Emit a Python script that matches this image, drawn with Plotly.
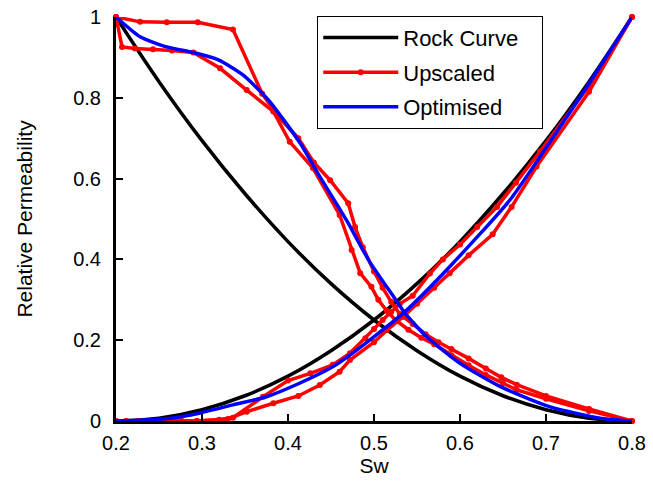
import plotly.graph_objects as go

# ---- data ----
rock_sw = [0.2, 0.25, 0.3, 0.35, 0.4, 0.45, 0.5, 0.55, 0.6, 0.65, 0.7, 0.75, 0.8]
rock_krw = [0, 0.007, 0.028, 0.0625, 0.111, 0.174, 0.25, 0.34, 0.444, 0.5625, 0.694, 0.84, 1]
rock_kro = [1, 0.84, 0.694, 0.5625, 0.444, 0.34, 0.25, 0.174, 0.111, 0.0625, 0.028, 0.007, 0]

upA_kro_sw = [0.2, 0.228, 0.259, 0.295, 0.336, 0.37, 0.39, 0.412, 0.43, 0.449, 0.47, 0.478, 0.487,
              0.5, 0.51, 0.52, 0.53, 0.545, 0.56, 0.575, 0.59, 0.61, 0.63, 0.648, 0.666, 0.7, 0.75, 0.8]
upA_kro = [1, 0.988, 0.987, 0.987, 0.969, 0.81, 0.75, 0.7, 0.64, 0.596, 0.539, 0.48, 0.43,
           0.37, 0.33, 0.295, 0.265, 0.24, 0.215, 0.195, 0.178, 0.155, 0.13, 0.108, 0.09, 0.062, 0.03, 0]

upB_kro_sw = [0.2, 0.207, 0.222, 0.243, 0.265, 0.29, 0.321, 0.352, 0.383, 0.402, 0.429, 0.46, 0.474,
              0.484, 0.497, 0.505, 0.515, 0.525, 0.54, 0.555, 0.57, 0.59, 0.61, 0.63, 0.65, 0.666, 0.7, 0.75, 0.8]
upB_kro = [1, 0.926, 0.922, 0.92, 0.917, 0.912, 0.873, 0.819, 0.766, 0.691, 0.626, 0.51, 0.423,
           0.366, 0.332, 0.3, 0.272, 0.25, 0.226, 0.206, 0.19, 0.163, 0.138, 0.114, 0.094, 0.077, 0.055, 0.025, 0]

upA_krw_sw = [0.2, 0.212, 0.226, 0.243, 0.259, 0.276, 0.294, 0.32, 0.336, 0.371, 0.4, 0.426, 0.452, 0.472,
              0.49, 0.5, 0.51, 0.52, 0.53, 0.545, 0.565, 0.58, 0.6, 0.62, 0.643, 0.665, 0.693, 0.75, 0.8]
upA_krw = [0, 0, 0, 0, 0, 0, 0, 0.003, 0.008, 0.06, 0.1, 0.118, 0.139, 0.168,
           0.205, 0.228, 0.25, 0.27, 0.29, 0.31, 0.365, 0.4, 0.437, 0.48, 0.53, 0.59, 0.667, 0.83, 1]

upB_krw_sw = [0.2, 0.212, 0.226, 0.243, 0.259, 0.276, 0.294, 0.33, 0.352, 0.383, 0.412, 0.437, 0.46, 0.472,
              0.5, 0.515, 0.534, 0.55, 0.57, 0.588, 0.61, 0.638, 0.66, 0.689, 0.75, 0.8]
upB_krw = [0, 0, 0, 0, 0, 0, 0, 0.005, 0.023, 0.044, 0.062, 0.089, 0.122, 0.151,
           0.195, 0.225, 0.258, 0.29, 0.33, 0.366, 0.41, 0.462, 0.53, 0.63, 0.815, 1]

opt_kro_sw = [0.2, 0.228, 0.259, 0.29, 0.319, 0.348, 0.379, 0.414, 0.437, 0.468, 0.495, 0.524,
              0.536, 0.561, 0.6, 0.647, 0.705, 0.763, 0.8]
opt_kro = [1, 0.951, 0.926, 0.912, 0.894, 0.856, 0.79, 0.688, 0.605, 0.497, 0.394, 0.304,
           0.267, 0.209, 0.143, 0.085, 0.035, 0.007, 0]
opt_krw_sw = [0.2, 0.22, 0.26, 0.298, 0.336, 0.375, 0.414, 0.452, 0.472, 0.534, 0.588, 0.658, 0.693, 0.75, 0.8]
opt_krw = [0, 0.001, 0.006, 0.02, 0.04, 0.06, 0.094, 0.134, 0.163, 0.267, 0.382, 0.547, 0.654, 0.835, 1]

x_ticks = [0.2, 0.3, 0.4, 0.5, 0.6, 0.7, 0.8]
y_ticks = [0, 0.2, 0.4, 0.6, 0.8, 1]
y_tick_text = ["0", "0.2", "0.4", "0.6", "0.8", "1"]

legend_names = ["Rock Curve\u00a0\u00a0\u00a0", "Upscaled", "Optimised"]

FONT = "Liberation Sans, Arial, Helvetica, sans-serif"
LW = 3.5

fig = go.Figure()

# Rock curve (black)
fig.add_trace(go.Scatter(x=rock_sw, y=rock_krw, mode="lines", line=dict(color="black", width=LW, shape="spline"),
                         name=legend_names[0], legendgroup="rock", showlegend=True, cliponaxis=False))
fig.add_trace(go.Scatter(x=rock_sw, y=rock_kro, mode="lines", line=dict(color="black", width=LW, shape="spline"),
                         name=legend_names[0], legendgroup="rock", showlegend=False, cliponaxis=False))

# Upscaled (red with dots)
red_line = dict(color="#ff0000", width=LW)
red_marker = dict(color="#ff0000", size=6)
for i, (xs, ys) in enumerate([(upA_kro_sw, upA_kro), (upB_kro_sw, upB_kro),
                              (upA_krw_sw, upA_krw), (upB_krw_sw, upB_krw)]):
    fig.add_trace(go.Scatter(x=xs, y=ys, mode="lines+markers", line=red_line, marker=red_marker,
                             name=legend_names[1], legendgroup="up", showlegend=(i == 0), cliponaxis=False))

# Optimised (blue)
fig.add_trace(go.Scatter(x=opt_kro_sw, y=opt_kro, mode="lines",
                         line=dict(color="#0000ff", width=LW, shape="spline", smoothing=0.6),
                         name=legend_names[2], legendgroup="opt", showlegend=True, cliponaxis=False))
fig.add_trace(go.Scatter(x=opt_krw_sw, y=opt_krw, mode="lines",
                         line=dict(color="#0000ff", width=LW, shape="spline", smoothing=0.6),
                         name=legend_names[2], legendgroup="opt", showlegend=False, cliponaxis=False))

fig.update_layout(
    width=653, height=494,
    margin=dict(l=116, r=21, t=17, b=73, autoexpand=False),
    paper_bgcolor="white", plot_bgcolor="white",
    font=dict(family=FONT, size=20, color="black"),
    showlegend=True,
    legend=dict(x=0.39, y=1.003, xanchor="left", yanchor="top",
                bordercolor="black", borderwidth=1, bgcolor="white",
                font=dict(family=FONT, size=22, color="black"),
                traceorder="grouped", tracegroupgap=3, itemwidth=75),
    xaxis=dict(range=[0.2, 0.8], tickvals=x_ticks, ticktext=[f"{v:.1f}" for v in x_ticks],
               ticks="inside", ticklen=7, tickwidth=2, tickcolor="black",
               showline=True, linecolor="black", linewidth=3, showgrid=False, zeroline=False,
               tickfont=dict(size=20), ticklabelstandoff=2, automargin=False, ticklabeloverflow="allow",
               title=dict(text="Sw", font=dict(size=21), standoff=0)),
    yaxis=dict(range=[0, 1], tickvals=y_ticks, ticktext=y_tick_text,
               ticks="inside", ticklen=7, tickwidth=2, tickcolor="black",
               showline=True, linecolor="black", linewidth=3, showgrid=False, zeroline=False,
               tickfont=dict(size=20), ticklabelstandoff=8, automargin=False, ticklabeloverflow="allow",
               title=dict(text="Relative Permeability", font=dict(size=21), standoff=35)),
)

# remove the page's default 8px body margin so the figure sits at the window's top-left corner
fig.write_html("out.html", config={"displayModeBar": False},
               post_script="document.body.style.margin='0';")
